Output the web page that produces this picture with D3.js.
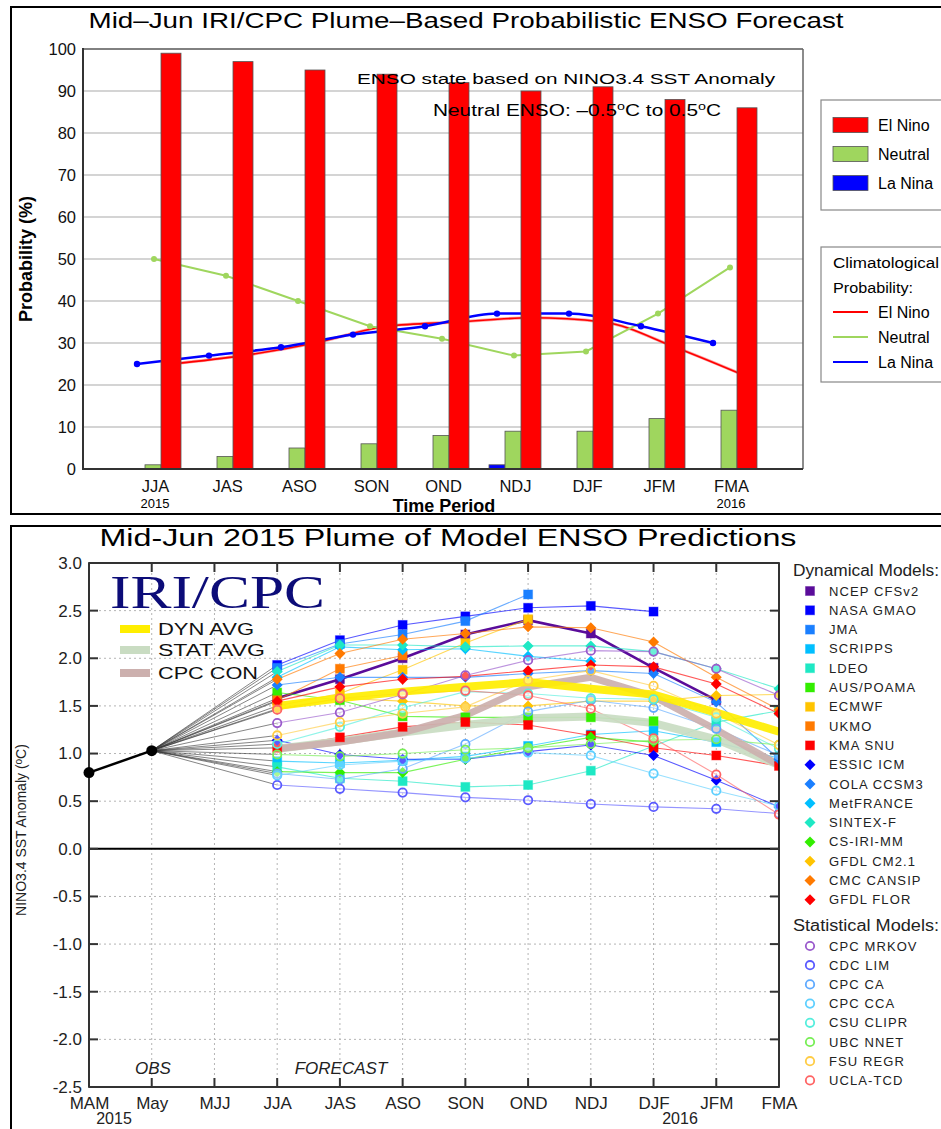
<!DOCTYPE html>
<html><head><meta charset="utf-8">
<script src="https://cdn.jsdelivr.net/npm/d3@7"></script>
<style>body{margin:0;background:#fff}svg{display:block;font-family:"Liberation Sans",Arial,sans-serif}</style>
</head><body><svg id="c" width="941" height="1129"></svg>
<script>
// ---------- TOP CHART DATA ----------
const topCats = ["JJA","JAS","ASO","SON","OND","NDJ","DJF","JFM","FMA"];
const elNinoProb = [99,97,95,94,92,90,91,88,86];
const neutralProb = [1,3,5,6,8,9,9,12,14];
const laNinaProb = [0,0,0,0,0,1,0,0,0];
const climElNino = [25,27,30,34,35,36,35,29,22];
const climNeutral = [50,46,40,34,31,27,28,37,48];
const climLaNina = [25,27,29,32,34,37,37,34,30];
const probTicks = [0,10,20,30,40,50,60,70,80,90,100];

// ---------- BOTTOM CHART DATA ----------
const monthLabels = ["MAM","May","MJJ","JJA","JAS","ASO","SON","OND","NDJ","DJF","JFM","FMA"];
const obsMonths = ["MAM","May"];
const obsValues = [0.80,1.03];
const fcstMonths = ["JJA","JAS","ASO","SON","OND","NDJ","DJF","JFM","FMA"];
const anomTicks = [3.0,2.5,2.0,1.5,1.0,0.5,0.0,-0.5,-1.0,-1.5,-2.0,-2.5];

const dynNames = ["NCEP CFSv2","NASA GMAO","JMA","SCRIPPS","LDEO","AUS/POAMA","ECMWF","UKMO","KMA SNU",
  "ESSIC ICM","COLA CCSM3","MetFRANCE","SINTEX-F","CS-IRI-MM","GFDL CM2.1","CMC CANSIP","GFDL FLOR"];
const statNames = ["CPC MRKOV","CDC LIM","CPC CA","CPC CCA","CSU CLIPR","UBC NNET","FSU REGR","UCLA-TCD"];

const ncepCFSv2 = [1.58,1.78,2.00,2.25,2.40,2.26,1.90,1.56,null];
const nasaGMAO  = [1.93,2.19,2.35,2.44,2.53,2.55,2.49,null,null];
const jma       = [1.90,2.15,2.25,2.39,2.67,null,null,null,null];
const scripps   = [0.92,0.90,0.93,0.97,1.08,1.20,1.24,1.12,0.95];
const ldeo      = [0.86,0.74,0.71,0.65,0.67,0.82,1.08,1.33,1.45];
const ausPoama  = [1.64,1.56,1.39,1.38,1.38,1.38,1.34,null,null];
const ecmwf     = [1.50,1.63,1.88,2.16,2.41,null,null,null,null];
const ukmo      = [1.56,1.89,2.03,null,null,null,null,null,null];
const kmaSNU    = [1.06,1.17,1.28,1.33,1.30,1.19,1.06,0.98,0.87];
const essicICM  = [1.14,0.99,0.94,0.94,1.02,1.09,0.98,0.72,0.44];
const colaCCSM3 = [1.72,1.80,1.80,1.80,1.84,1.87,1.84,1.54,0.94];
const metFrance = [1.80,2.12,2.09,2.10,2.02,1.97,null,null,null];
const sintexF   = [1.86,2.14,2.14,2.12,2.13,2.13,2.07,1.89,1.68];
const csIriMM   = [0.81,0.80,0.80,0.94,1.06,1.17,1.12,null,null];
const gfdlCM21  = [1.47,1.58,1.55,1.50,1.50,1.55,1.55,1.61,1.62];
const cmcCansip = [1.78,2.05,2.20,2.26,2.33,2.32,2.17,1.80,1.46];
const gfdlFlor  = [1.55,1.70,1.78,1.81,1.87,1.93,1.91,1.73,1.42];

const cpcMrkov  = [1.32,1.43,1.62,1.82,1.98,2.08,2.07,1.89,1.61];
const cdcLim    = [0.67,0.63,0.59,0.54,0.51,0.47,0.44,0.42,0.37];
const cpcCA     = [0.79,0.73,0.84,1.10,1.44,1.56,1.48,1.26,0.98];
const cpcCCA    = [0.77,0.88,0.92,0.95,1.01,0.98,0.79,0.61,0.45];
const csuClipr  = [1.10,1.28,1.48,1.65,1.63,1.58,1.57,1.38,1.05];
const ubcNnet   = [0.99,0.97,1.00,1.04,1.06,1.10,1.14,1.15,1.09];
const fsuRegr   = [1.19,1.33,1.42,1.49,1.77,1.87,1.71,1.42,1.09];
const uclaTcd   = [1.46,1.58,1.63,1.66,1.61,1.47,1.16,0.78,0.36];

const dynAvg  = [1.50,1.58,1.65,1.70,1.75,1.68,1.62,1.43,1.23];
const statAvg = [1.05,1.13,1.22,1.30,1.37,1.39,1.32,1.15,0.88];
const cpcCon  = [1.05,1.12,1.22,1.40,1.70,1.80,1.60,1.25,0.88];

const dynSeries = [ncepCFSv2,nasaGMAO,jma,scripps,ldeo,ausPoama,ecmwf,ukmo,kmaSNU,
  essicICM,colaCCSM3,metFrance,sintexF,csIriMM,gfdlCM21,cmcCansip,gfdlFlor];
const statSeries = [cpcMrkov,cdcLim,cpcCA,cpcCCA,csuClipr,ubcNnet,fsuRegr,uclaTcd];

// ---------- STYLE ----------
const dynColors = ["#5a0c9a","#0000ff","#1a7fff","#00bfff","#1ee8c4","#33ee00","#ffc400","#ff7a00","#ff0000",
  "#0000ff","#1a7fff","#00bfff","#1ee8c4","#33ee00","#ffc400","#ff7a00","#ff0000"];
const dynShapes = ["sq","sq","sq","sq","sq","sq","sq","sq","sq","di","di","di","di","di","di","di","di"];
const statColors = ["#9a5acc","#5a5aff","#5faaff","#5fd0ff","#55eedd","#77ee55","#ffcc44","#ff6464"];

const svg = d3.select("#c");
const FONT = '"Liberation Sans", Arial, sans-serif';

// ================= TOP PANEL =================
const gT = svg.append("g");
gT.append("rect").attr("x",11).attr("y",7).attr("width",940).attr("height",507)
  .attr("fill","none").attr("stroke","#000").attr("stroke-width",2);
gT.append("text").attr("x",466).attr("y",28).attr("text-anchor","middle")
  .attr("font-size",22).attr("textLength",755).attr("lengthAdjust","spacingAndGlyphs")
  .text("Mid–Jun IRI/CPC Plume–Based Probabilistic ENSO Forecast");

const xT = d3.scaleLinear().domain([-1, topCats.length]).range([83,803]);
const yT = d3.scaleLinear().domain([0,100]).range([469,49]);

gT.append("g").selectAll("line").data(probTicks).join("line")
  .attr("x1",83).attr("x2",803).attr("y1",d=>yT(d)).attr("y2",d=>yT(d))
  .attr("stroke","#c6c6c6").attr("stroke-width",1.5);

const idx = d3.range(topCats.length);
const lineRed = d3.line().x(i=>xT(i)+16).y(i=>yT(climElNino[i])).curve(d3.curveMonotoneX);
const lineGreen = d3.line().x(i=>xT(i)-1).y(i=>yT(climNeutral[i]));
const lineBlue = d3.line().x(i=>xT(i)-18).y(i=>yT(climLaNina[i])).curve(d3.curveMonotoneX);
gT.append("path").attr("d",lineRed(idx)).attr("fill","none").attr("stroke","#ff4040").attr("stroke-width",3).attr("opacity",0.5);
gT.append("path").attr("d",lineRed(idx)).attr("fill","none").attr("stroke","#ff0000").attr("stroke-width",1.6);
gT.append("path").attr("d",lineGreen(idx)).attr("fill","none").attr("stroke","#9fd65e").attr("stroke-width",2);
gT.append("path").attr("d",lineBlue(idx)).attr("fill","none").attr("stroke","#0000ff").attr("stroke-width",2.5);
gT.append("g").selectAll("circle").data(idx).join("circle")
  .attr("cx",i=>xT(i)-1).attr("cy",i=>yT(climNeutral[i])).attr("r",3).attr("fill","#9fd65e");
gT.append("g").selectAll("circle").data(idx).join("circle")
  .attr("cx",i=>xT(i)-18).attr("cy",i=>yT(climLaNina[i])).attr("r",3.2).attr("fill","#0000ff");

const bars = gT.append("g").attr("stroke","#555").attr("stroke-width",0.8);
bars.selectAll(".ln").data(idx.filter(i=>laNinaProb[i]>0)).join("rect")
  .attr("x",i=>xT(i)-26).attr("width",16).attr("y",i=>yT(laNinaProb[i])).attr("height",i=>yT(0)-yT(laNinaProb[i]))
  .attr("fill","#0000ff");
bars.selectAll(".nt").data(idx).join("rect")
  .attr("x",i=>xT(i)-10).attr("width",16).attr("y",i=>yT(neutralProb[i])).attr("height",i=>yT(0)-yT(neutralProb[i]))
  .attr("fill","#9fd65e");
bars.selectAll(".en").data(idx).join("rect")
  .attr("x",i=>xT(i)+6).attr("width",20).attr("y",i=>yT(elNinoProb[i])).attr("height",i=>yT(0)-yT(elNinoProb[i]))
  .attr("fill","#ff0000");

gT.append("line").attr("x1",83).attr("x2",803).attr("y1",49).attr("y2",49).attr("stroke","#666").attr("stroke-width",1.5);
gT.append("line").attr("x1",803).attr("x2",803).attr("y1",49).attr("y2",469).attr("stroke","#666").attr("stroke-width",1.5);
gT.append("line").attr("x1",83).attr("x2",83).attr("y1",48).attr("y2",470).attr("stroke","#333").attr("stroke-width",2);
gT.append("line").attr("x1",82).attr("x2",803).attr("y1",469).attr("y2",469).attr("stroke","#333").attr("stroke-width",2);

const ay = gT.append("g").attr("transform","translate(83,0)")
  .call(d3.axisLeft(yT).tickValues(probTicks).tickSize(0).tickPadding(7));
ay.select(".domain").remove();
ay.selectAll("text").attr("font-size",16.5).attr("font-family",FONT).attr("fill","#111");
const ax = gT.append("g").attr("transform","translate(0,469)")
  .call(d3.axisBottom(xT).tickValues(idx).tickFormat(i=>topCats[i]).tickSize(0).tickPadding(11));
ax.select(".domain").remove();
ax.selectAll("text").attr("font-size",16.5).attr("font-family",FONT).attr("fill","#111");
gT.append("text").attr("x",xT(0)).attr("y",508).attr("text-anchor","middle").attr("font-size",13).text("2015");
gT.append("text").attr("x",xT(8)).attr("y",508).attr("text-anchor","middle").attr("font-size",13).text("2016");
gT.append("text").attr("x",444).attr("y",512).attr("text-anchor","middle").attr("font-size",18).attr("font-weight","bold").text("Time Period");
gT.append("text").attr("transform","translate(32,259) rotate(-90)").attr("text-anchor","middle")
  .attr("font-size",18).attr("font-weight","bold").text("Probability (%)");

gT.append("text").attr("x",357).attr("y",84).attr("font-size",15.5).attr("textLength",418).attr("lengthAdjust","spacingAndGlyphs")
  .text("ENSO state based on NINO3.4 SST Anomaly");
const nt = gT.append("text").attr("x",433).attr("y",116).attr("font-size",16)
  .attr("textLength",288).attr("lengthAdjust","spacingAndGlyphs");
nt.append("tspan").text("Neutral ENSO: –0.5");
nt.append("tspan").attr("dy",-6).attr("font-size",11).text("o");
nt.append("tspan").attr("dy",6).text("C to 0.5");
nt.append("tspan").attr("dy",-6).attr("font-size",11).text("o");
nt.append("tspan").attr("dy",6).text("C");

const lg1 = gT.append("g");
lg1.append("rect").attr("x",821).attr("y",100).attr("width",140).attr("height",110).attr("fill","#fff").attr("stroke","#888").attr("stroke-width",1.2);
const barLeg = [["El Nino","#ff0000",125],["Neutral","#9fd65e",154],["La Nina","#0000ff",183]];
barLeg.forEach(([t,c,y])=>{
  lg1.append("rect").attr("x",833).attr("y",y-7.5).attr("width",35).attr("height",15).attr("fill",c).attr("stroke","#555").attr("stroke-width",0.8);
  lg1.append("text").attr("x",878).attr("y",y+5.5).attr("font-size",16).text(t);
});
const lg2 = gT.append("g");
lg2.append("rect").attr("x",821).attr("y",247).attr("width",140).attr("height",135).attr("fill","#fff").attr("stroke","#888").attr("stroke-width",1.2);
lg2.append("text").attr("x",833).attr("y",268).attr("font-size",15.5).attr("textLength",106).attr("lengthAdjust","spacingAndGlyphs").text("Climatological");
lg2.append("text").attr("x",833).attr("y",293).attr("font-size",15.5).attr("textLength",80).attr("lengthAdjust","spacingAndGlyphs").text("Probability:");
const lineLeg = [["El Nino","#ff0000",312],["Neutral","#9fd65e",337],["La Nina","#0000ff",362]];
lineLeg.forEach(([t,c,y])=>{
  lg2.append("line").attr("x1",833).attr("x2",868).attr("y1",y).attr("y2",y).attr("stroke",c).attr("stroke-width",2);
  lg2.append("text").attr("x",878).attr("y",y+5.5).attr("font-size",16).text(t);
});

// ================= BOTTOM PANEL =================
const gB = svg.append("g");
gB.append("rect").attr("x",11).attr("y",526).attr("width",940).attr("height",620)
  .attr("fill","none").attr("stroke","#000").attr("stroke-width",2);
gB.append("text").attr("x",448).attr("y",546).attr("text-anchor","middle").attr("font-size",23)
  .attr("textLength",697).attr("lengthAdjust","spacingAndGlyphs")
  .text("Mid-Jun 2015 Plume of Model ENSO Predictions");

const xB = d3.scalePoint().domain(monthLabels).range([89,779]);
const yB = d3.scaleLinear().domain([-2.5,3]).range([1087,563]);
const L=89,R=779,T=563,B=1087;

gB.append("g").selectAll("line").data(monthLabels.slice(1,-1)).join("line")
  .attr("x1",d=>xB(d)).attr("x2",d=>xB(d)).attr("y1",T).attr("y2",B)
  .attr("stroke","#b4b4b4").attr("stroke-width",1).attr("stroke-dasharray","2,3");
gB.append("g").selectAll("line").data(anomTicks.slice(1,-1)).join("line")
  .attr("x1",L).attr("x2",R).attr("y1",d=>yB(d)).attr("y2",d=>yB(d))
  .attr("stroke","#b4b4b4").attr("stroke-width",1).attr("stroke-dasharray","2,3");
gB.append("line").attr("x1",L).attr("x2",R).attr("y1",yB(0)).attr("y2",yB(0)).attr("stroke","#000").attr("stroke-width",2);

svg.append("defs").append("clipPath").attr("id","pc").append("rect").attr("x",L).attr("y",T).attr("width",R-L).attr("height",B-T);
const pg = gB.append("g").attr("clip-path","url(#pc)");

const allSeries = dynSeries.concat(statSeries);
const allColors = dynColors.concat(statColors);
const allShapes = dynShapes.concat(statSeries.map(()=>"ci"));

pg.append("g").selectAll("line").data(allSeries).join("line")
  .attr("x1",xB(obsMonths[1])).attr("y1",yB(obsValues[1]))
  .attr("x2",xB(fcstMonths[0])).attr("y2",s=>yB(s[0]))
  .attr("stroke","#333").attr("stroke-width",0.7).attr("opacity",0.85);

const mline = d3.line().defined(d=>d[1]!=null).x(d=>xB(d[0])).y(d=>yB(d[1]));
const pts = s => fcstMonths.map((m,i)=>[m,s[i]]);

allSeries.forEach((s,k)=>{
  pg.append("path").attr("d",mline(pts(s))).attr("fill","none")
    .attr("stroke",allColors[k]).attr("stroke-width",k===0?2.6:1.1).attr("opacity",k===0?1:0.65);
});

[[statAvg,"#c9dcc2",8],[cpcCon,"#ccb0ae",7],[dynAvg,"#ffee00",8]].forEach(([s,c,w])=>{
  pg.append("path").attr("d",mline(pts(s))).attr("fill","none").attr("stroke",c).attr("stroke-width",w)
    .attr("stroke-linejoin","round").attr("opacity",0.92);
});

function marker(g,shape,x,y,c){
  if(shape==="sq") g.append("rect").attr("x",x-4.5).attr("y",y-4.5).attr("width",9).attr("height",9).attr("fill",c).attr("stroke",c).attr("stroke-opacity",0.4).attr("stroke-width",1);
  else if(shape==="di") g.append("path").attr("d",`M${x},${y-5.5}L${x+5.5},${y}L${x},${y+5.5}L${x-5.5},${y}Z`).attr("fill",c);
  else g.append("circle").attr("cx",x).attr("cy",y).attr("r",4.2).attr("fill","#fff").attr("fill-opacity",0.35).attr("stroke",c).attr("stroke-width",1.8);
}
allSeries.forEach((s,k)=>{
  fcstMonths.forEach((m,i)=>{ if(s[i]!=null) marker(pg,allShapes[k],xB(m),yB(s[i]),allColors[k]); });
});

gB.append("path").attr("d",d3.line().x((d,i)=>xB(obsMonths[i])).y(d=>yB(d))(obsValues))
  .attr("fill","none").attr("stroke","#000").attr("stroke-width",2.5);
gB.append("g").selectAll("circle").data(obsValues).join("circle")
  .attr("cx",(d,i)=>xB(obsMonths[i])).attr("cy",d=>yB(d)).attr("r",5.5).attr("fill","#000");

gB.append("rect").attr("x",L).attr("y",T).attr("width",R-L).attr("height",B-T).attr("fill","none").attr("stroke","#000").attr("stroke-width",1.6);
const tk = gB.append("g").attr("stroke","#333").attr("stroke-width",2);
monthLabels.forEach(m=>{
  tk.append("line").attr("x1",xB(m)).attr("x2",xB(m)).attr("y1",T).attr("y2",T+9);
  tk.append("line").attr("x1",xB(m)).attr("x2",xB(m)).attr("y1",B).attr("y2",B-9);
});
anomTicks.forEach(v=>{
  tk.append("line").attr("x1",L).attr("x2",L+9).attr("y1",yB(v)).attr("y2",yB(v));
  tk.append("line").attr("x1",R).attr("x2",R-9).attr("y1",yB(v)).attr("y2",yB(v));
});

const byA = gB.append("g").attr("transform",`translate(${L},0)`)
  .call(d3.axisLeft(yB).tickValues(anomTicks).tickFormat(d=>d.toFixed(1)).tickSize(0).tickPadding(7));
byA.select(".domain").remove();
byA.selectAll("text").attr("font-size",17).attr("font-family",FONT).attr("fill","#222");
const bxA = gB.append("g").attr("transform",`translate(0,${B})`)
  .call(d3.axisBottom(xB).tickSize(0).tickPadding(10));
bxA.select(".domain").remove();
bxA.selectAll("text").attr("font-size",17).attr("font-family",FONT).attr("fill","#222");
gB.append("text").attr("x",114).attr("y",1124).attr("text-anchor","middle").attr("font-size",16).attr("fill","#222").text("2015");
gB.append("text").attr("x",680).attr("y",1124).attr("text-anchor","middle").attr("font-size",16).attr("fill","#222").text("2016");
const yl = gB.append("text").attr("transform","translate(26,830) rotate(-90)").attr("text-anchor","middle").attr("font-size",14).attr("fill","#222");
yl.append("tspan").text("NINO3.4 SST Anomaly (");
yl.append("tspan").attr("dy",-4).attr("font-size",10).text("o");
yl.append("tspan").attr("dy",4).text("C)");

gB.append("text").attr("x",153).attr("y",1074).attr("text-anchor","middle").attr("font-size",17).attr("font-style","italic").attr("fill","#222").text("OBS");
gB.append("text").attr("x",341).attr("y",1074).attr("text-anchor","middle").attr("font-size",17).attr("font-style","italic").attr("fill","#222").text("FORECAST");

gB.append("text").attr("x",110).attr("y",608).attr("font-family",'"Liberation Serif","Times New Roman",serif')
  .attr("font-size",46).attr("fill","#0c0c78").attr("textLength",215).attr("lengthAdjust","spacingAndGlyphs").text("IRI/CPC");
[["DYN AVG","#ffee00",629,96],["STAT AVG","#c9dcc2",650,107],["CPC CON","#ccb0ae",673,100]].forEach(([t,c,y,w])=>{
  gB.append("line").attr("x1",120).attr("x2",150).attr("y1",y).attr("y2",y).attr("stroke",c).attr("stroke-width",8);
  gB.append("text").attr("x",158).attr("y",y+6).attr("font-size",16).attr("textLength",w).attr("lengthAdjust","spacingAndGlyphs").attr("fill","#111").text(t);
});

const rl = gB.append("g");
rl.append("text").attr("x",793).attr("y",576).attr("font-size",16).attr("textLength",146).attr("lengthAdjust","spacingAndGlyphs").attr("fill","#222").text("Dynamical Models:");
dynNames.forEach((n,k)=>{
  const y = 591 + k*19.3;
  marker(rl,dynShapes[k],810,y,dynColors[k]);
  rl.append("text").attr("x",829).attr("y",y+4.5).attr("font-size",13).attr("letter-spacing",1.1).attr("fill","#222").text(n);
});
rl.append("text").attr("x",793).attr("y",931).attr("font-size",16).attr("textLength",146).attr("lengthAdjust","spacingAndGlyphs").attr("fill","#222").text("Statistical Models:");
statNames.forEach((n,k)=>{
  const y = 946 + k*19.2;
  marker(rl,"ci",810,y,statColors[k]);
  rl.append("text").attr("x",829).attr("y",y+4.5).attr("font-size",13).attr("letter-spacing",1.1).attr("fill","#222").text(n);
});
</script></body></html>
